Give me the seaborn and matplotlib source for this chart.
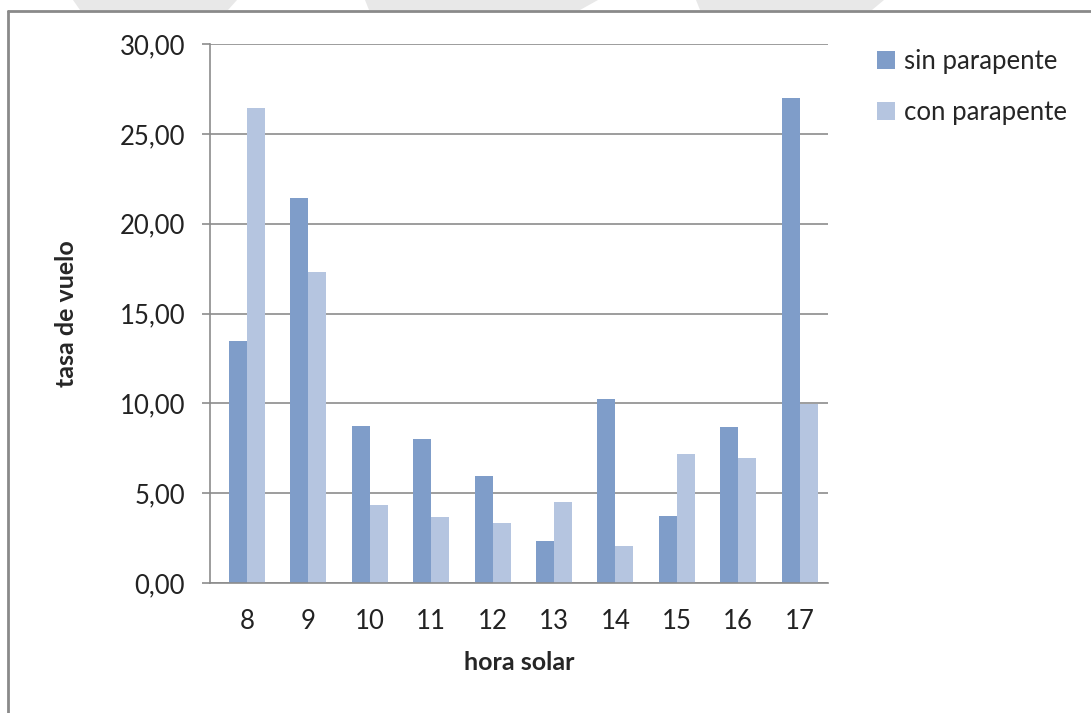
import numpy as np
import pandas as pd
import seaborn as sns
import matplotlib.pyplot as plt
from matplotlib.lines import Line2D
from matplotlib.patches import Polygon

horas = ['8', '9', '10', '11', '12', '13', '14', '15', '16', '17']
sin_parapente = [13.47, 21.45, 8.75, 8.0, 5.95, 2.35, 10.22, 3.73, 8.68, 27.02]
con_parapente = [26.42, 17.3, 4.35, 3.68, 3.35, 4.52, 2.05, 7.2, 6.98, 9.97]
series = ['sin parapente', 'con parapente']
colores = ['#7F9DC9', '#B5C5E0']

df = pd.DataFrame({
    'hora': horas * 2,
    'tasa': sin_parapente + con_parapente,
    'serie': [series[0]] * len(horas) + [series[1]] * len(horas),
})

sns.set_style('white')
plt.rcParams['font.family'] = ['Lato', 'DejaVu Sans']

W, H = 1091, 713
fig = plt.figure(figsize=(W / 100, H / 100), dpi=100)
ax = fig.add_axes([210 / W, 1 - 583 / H, 618 / W, 539 / H])

# faint watermark stripes at the top, and the frame (top + left edges)
for xt0, xt1, xb0, xb1 in [(73, 237, 80, 228), (365, 598, 369, 580), (696, 884, 700, 872)]:
    pts = [[xt0 / W, 1.0], [xt1 / W, 1.0], [xb1 / W, 1 - 10 / H], [xb0 / W, 1 - 10 / H]]
    fig.patches.append(Polygon(pts, closed=True, transform=fig.transFigure,
                               facecolor='#e8e8e8', edgecolor='none', zorder=0))
fig.lines.append(Line2D([8 / W, 1.0], [1 - 11 / H, 1 - 11 / H], transform=fig.transFigure,
                        color='#8a8a8a', linewidth=2))
fig.lines.append(Line2D([8 / W, 8 / W], [0, 1 - 11 / H], transform=fig.transFigure,
                        color='#8a8a8a', linewidth=2))

sns.barplot(data=df, x='hora', y='tasa', hue='serie', order=horas, hue_order=series,
            palette=colores, width=0.586, gap=0, saturation=1, linewidth=0, ax=ax, legend=True)

ax.set_ylim(0, 30)
ax.set_xlim(-0.6, 9.46)
ax.set_yticks(np.arange(0, 31, 5))
ax.set_yticklabels([f'{v:.2f}'.replace('.', ',') for v in np.arange(0, 31, 5)])
ax.yaxis.grid(True, color='#8c8c8c', linewidth=1.2)
ax.set_axisbelow(True)
for s in ['top', 'right']:
    ax.spines[s].set_visible(False)
for s in ['left', 'bottom']:
    ax.spines[s].set_color('#8c8c8c')
    ax.spines[s].set_linewidth(1.2)
ax.tick_params(axis='y', length=6, width=1.2, color='#8c8c8c', labelsize=18.5, pad=12, left=True)
ax.tick_params(axis='x', length=0, labelsize=18.5, pad=19)
for lbl in ax.get_xticklabels() + ax.get_yticklabels():
    lbl.set_color('#222222')

ax.set_xlabel('hora solar', fontsize=18, fontweight='bold', labelpad=12)
ax.set_ylabel('tasa de vuelo', fontsize=18, fontweight='bold', labelpad=30)

handles, labels = ax.get_legend_handles_labels()
ax.legend(handles, labels, loc='upper left', bbox_to_anchor=(1.062, 1.01), frameon=False,
          fontsize=18.5, handlelength=0.7, handleheight=0.7, handletextpad=0.35,
          labelspacing=1.0, borderaxespad=0)

fig.savefig('out.png', dpi=100)
